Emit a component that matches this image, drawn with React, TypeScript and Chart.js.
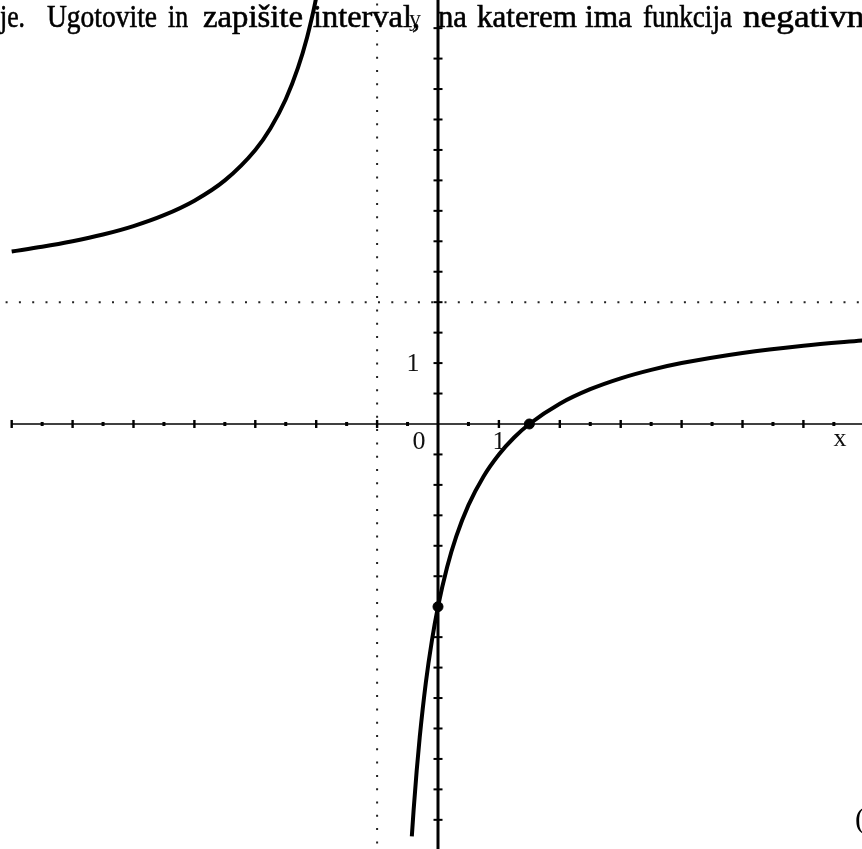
import React, { useEffect, useRef } from "react";
import { Chart, registerables } from "chart.js";

Chart.register(...registerables);

// Left branch of the graph
const leftX = [-7.0, -6.5, -6, -5.5, -5, -4.5, -4, -3.5, -3, -2.75, -2.5, -2.3, -2.15, -2.05, -2.0];
const leftY = [2.833, 2.909, 3.0, 3.111, 3.25, 3.429, 3.667, 4.0, 4.5, 4.857, 5.333, 5.846, 6.348, 6.762, 7.0];

// Right branch of the graph
const rightX = [-0.43, -0.4, -0.35, -0.3, -0.2, -0.1, 0, 0.15, 0.3, 0.5, 0.75, 1, 1.25, 1.5, 2, 2.5, 3, 3.5, 4, 5, 6, 7];
const rightY = [-6.772, -6.333, -5.692, -5.143, -4.25, -3.556, -3, -2.348, -1.846, -1.333, -0.857, -0.5, -0.222, 0, 0.333, 0.571, 0.75, 0.889, 1.0, 1.167, 1.286, 1.375];

// Marked points (intercepts)
const markX = [1.5, 0];
const markY = [0, -3];

// Asymptotes
const vAsymptoteX = -1;
const hAsymptoteY = 2;

// Axis range and ticks
const xRange = [-7.192, 6.962];
const yRange = [-6.979, 6.962];
const xAxisStart = -7;
const xTicks = [-7, -6.5, -6, -5.5, -5, -4.5, -4, -3.5, -3, -2.5, -2, -1.5, -1, -0.5, 0.5, 1, 1.5, 2, 2.5, 3, 3.5, 4, 4.5, 5, 5.5, 6, 6.5];
const yTicks = [-6.5, -6, -5.5, -5, -4.5, -4, -3.5, -3, -2.5, -2, -1.5, -1, -0.5, 0.5, 1, 1.5, 2, 2.5, 3, 3.5, 4, 4.5, 5, 5.5, 6, 6.5];

// Text line at the top of the picture (cut off), word by word
const topWords = ["je.", "Ugotovite", "in", "zapišite", "interval,", "na", "katerem", "ima", "funkcija", "negativne"];
const bottomText = "(";

const SERIF = '"Liberation Serif", "DejaVu Serif", serif';
const wordStarts = [0, 47, 168, 203, 313, 438, 477, 585, 643, 743];
const wordWidths = [25, 110, 20, 100, 107, 29, 100, 47, 89, 137];

const axesPlugin = {
  id: "mathAxes",
  beforeDatasetsDraw(chart: any) {
    const { ctx, chartArea, scales } = chart;
    const sx = scales.x;
    const sy = scales.y;
    const x0 = sx.getPixelForValue(0);
    const y0 = sy.getPixelForValue(0);
    ctx.save();
    ctx.strokeStyle = "#000";
    ctx.fillStyle = "#000";
    // x axis
    ctx.lineWidth = 1.6;
    ctx.beginPath();
    ctx.moveTo(sx.getPixelForValue(xAxisStart), y0);
    ctx.lineTo(chartArea.right, y0);
    ctx.stroke();
    // x ticks
    xTicks.forEach((v) => {
      const px = sx.getPixelForValue(v);
      const major = Number.isInteger(v);
      if (major) ctx.fillRect(px - 1.2, y0 - 4, 2.4, 8);
      else ctx.fillRect(px - 1.5, y0 - 2, 3, 4);
    });
    // y axis
    ctx.lineWidth = 3;
    ctx.beginPath();
    ctx.moveTo(x0, chartArea.top);
    ctx.lineTo(x0, chartArea.bottom);
    ctx.stroke();
    yTicks.forEach((v) => {
      const py = sy.getPixelForValue(v);
      ctx.fillRect(x0 - 4.5, py - 1, 9, 2);
    });
    ctx.restore();
  },
  afterDatasetsDraw(chart: any) {
    const { ctx, scales } = chart;
    const sx = scales.x;
    const sy = scales.y;
    const x0 = sx.getPixelForValue(0);
    const y0 = sy.getPixelForValue(0);
    ctx.save();
    ctx.fillStyle = "#111";
    ctx.textAlign = "center";
    ctx.textBaseline = "middle";
    ctx.font = `26px ${SERIF}`;
    ctx.fillText("0", x0 - 19, y0 + 18);
    ctx.fillText("1", sx.getPixelForValue(1), y0 + 18);
    ctx.fillText("1", x0 - 25, sy.getPixelForValue(1) + 1);
    ctx.fillText("x", sx.getPixelForValue(6.6), y0 + 15);
    ctx.font = `24px ${SERIF}`;
    ctx.fillText("y", x0 - 23, 20);
    // top text line (cut off by the picture)
    ctx.fillStyle = "#000";
    ctx.strokeStyle = "#000";
    ctx.lineWidth = 0.6;
    ctx.font = `32px ${SERIF}`;
    ctx.textAlign = "left";
    ctx.textBaseline = "alphabetic";
    topWords.forEach((word, i) => {
      const w = ctx.measureText(word).width;
      const scale = wordWidths[i] / w;
      ctx.save();
      ctx.translate(wordStarts[i], 27);
      ctx.scale(scale, 1);
      ctx.fillText(word, 0, 0);
      ctx.strokeText(word, 0, 0);
      ctx.restore();
    });
    ctx.font = `30px ${SERIF}`;
    ctx.fillText(bottomText, 855, 828);
    ctx.restore();
  },
};

export default function App() {
  const ref = useRef<HTMLCanvasElement | null>(null);
  useEffect(() => {
    if (!ref.current) return;
    const toPts = (xs: number[], ys: number[]) => xs.map((x, i) => ({ x, y: ys[i] }));
    const chart = new Chart(ref.current, {
      type: "scatter",
      data: {
        datasets: [
          {
            data: [
              { x: vAsymptoteX, y: yRange[0] - 1 },
              { x: vAsymptoteX, y: yRange[1] + 1 },
            ],
            showLine: true,
            borderColor: "#222",
            borderWidth: 2,
            borderDash: [2, 11.3],
            pointRadius: 0,
          },
          {
            data: [
              { x: xRange[0] - 1, y: hAsymptoteY },
              { x: xRange[1] + 1, y: hAsymptoteY },
            ],
            showLine: true,
            borderColor: "#222",
            borderWidth: 2,
            borderDash: [2, 11.3],
            pointRadius: 0,
          },
          {
            data: toPts(leftX, leftY),
            showLine: true,
            borderColor: "#000",
            borderWidth: 4,
            pointRadius: 0,
            cubicInterpolationMode: "monotone",
          },
          {
            data: toPts(rightX, rightY),
            showLine: true,
            borderColor: "#000",
            borderWidth: 4,
            pointRadius: 0,
            cubicInterpolationMode: "monotone",
          },
          {
            data: toPts(markX, markY),
            showLine: false,
            pointRadius: 5,
            pointBackgroundColor: "#000",
            pointBorderColor: "#000",
          },
        ],
      },
      options: {
        animation: false,
        responsive: false,
        devicePixelRatio: 1,
        layout: { padding: 0, autoPadding: false },
        plugins: { legend: { display: false }, tooltip: { enabled: false }, title: { display: false } },
        scales: {
          x: { type: "linear", min: xRange[0], max: xRange[1], display: false },
          y: { type: "linear", min: yRange[0], max: yRange[1], display: false },
        },
      },
      plugins: [axesPlugin],
    });
    return () => chart.destroy();
  }, []);
  return (
    <div style={{ position: "absolute", left: 0, top: 0, width: 862, height: 849, background: "#fff" }}>
      <canvas ref={ref} width={862} height={849} style={{ display: "block" }} />
    </div>
  );
}
